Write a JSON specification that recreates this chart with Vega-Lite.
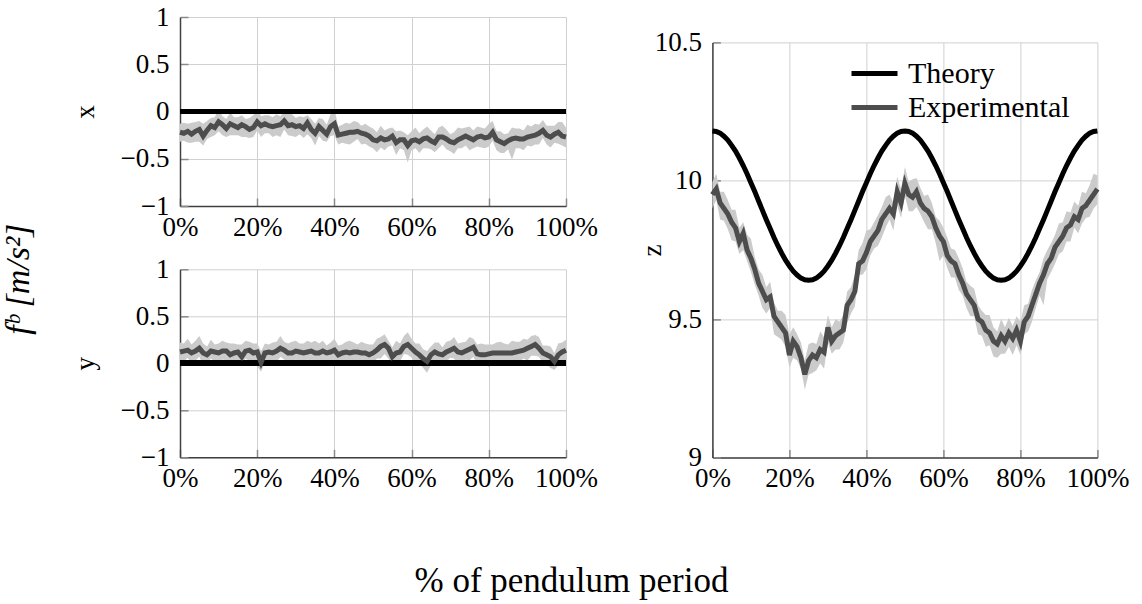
{
"$schema": "https://vega.github.io/schema/vega-lite/v6.json",
"background": "white",
"padding": {"left": 2, "top": 3, "right": 5, "bottom": 5},
"config": {
  "font": "Liberation Serif",
  "view": {"stroke": null},
  "axis": {"labelFont": "Liberation Serif", "labelFontSize": 27, "labelColor": "black", "titleFont": "Liberation Serif", "titleFontSize": 27, "titleFontWeight": "normal", "titleColor": "black", "gridColor": "#d0d0d0", "gridWidth": 1, "domainColor": "#404040", "domainWidth": 1.5, "tickColor": "#8a8a8a", "tickWidth": 1.5, "tickSize": -8, "labelFlush": false, "labelOverlap": false},
  "axisX": {"labelPadding": 16},
  "axisY": {"labelPadding": 19},
  "title": {"font": "Liberation Serif", "fontWeight": "normal", "fontSize": 27, "color": "black"},
  "legend": {"orient": "none", "legendX": 669, "legendY": 31, "title": null, "symbolType": "stroke", "symbolSize": 2116, "symbolStrokeWidth": 5, "labelFont": "Liberation Serif", "labelFontSize": 30, "labelColor": "black", "labelOffset": 8, "labelLimit": 0, "padding": 0}
},
"title": {"text": "% of pendulum period", "orient": "bottom", "anchor": "middle", "offset": 73, "fontSize": 35, "dx": 6},
"datasets": {"d": [
{"p":0,"xm":-0.22,"xl":-0.32,"xh":-0.13,"ym":0.12,"yl":0.03,"yh":0.22,"zm":9.95,"zl":9.90,"zh":9.995,"zt":10.180},
{"p":1,"xm":-0.23,"xl":-0.31,"xh":-0.12,"ym":0.13,"yl":0.02,"yh":0.21,"zm":9.97,"zl":9.93,"zh":10.025,"zt":10.178},
{"p":2,"xm":-0.21,"xl":-0.33,"xh":-0.13,"ym":0.14,"yl":0.06,"yh":0.26,"zm":9.92,"zl":9.86,"zh":9.96,"zt":10.172},
{"p":3,"xm":-0.24,"xl":-0.33,"xh":-0.12,"ym":0.11,"yl":-0.01,"yh":0.20,"zm":9.90,"zl":9.855,"zh":9.96,"zt":10.161},
{"p":4,"xm":-0.21,"xl":-0.32,"xh":-0.11,"ym":0.13,"yl":0.03,"yh":0.24,"zm":9.88,"zl":9.825,"zh":9.93,"zt":10.147},
{"p":5,"xm":-0.19,"xl":-0.32,"xh":-0.10,"ym":0.16,"yl":0.07,"yh":0.29,"zm":9.85,"zl":9.785,"zh":9.895,"zt":10.128},
{"p":6,"xm":-0.26,"xl":-0.36,"xh":-0.13,"ym":0.11,"yl":-0.02,"yh":0.21,"zm":9.83,"zl":9.78,"zh":9.895,"zt":10.107},
{"p":7,"xm":-0.20,"xl":-0.29,"xh":-0.10,"ym":0.09,"yl":-0.01,"yh":0.18,"zm":9.78,"zl":9.735,"zh":9.83,"zt":10.082},
{"p":8,"xm":-0.15,"xl":-0.27,"xh":-0.07,"ym":0.13,"yl":0.05,"yh":0.25,"zm":9.81,"zl":9.75,"zh":9.85,"zt":10.055},
{"p":9,"xm":-0.17,"xl":-0.25,"xh":-0.06,"ym":0.12,"yl":0.01,"yh":0.20,"zm":9.75,"zl":9.71,"zh":9.805,"zt":10.025},
{"p":10,"xm":-0.11,"xl":-0.21,"xh":0.03,"ym":0.11,"yl":-0.03,"yh":0.21,"zm":9.72,"zl":9.67,"zh":9.79,"zt":9.993},
{"p":11,"xm":-0.14,"xl":-0.25,"xh":-0.05,"ym":0.13,"yl":0.04,"yh":0.24,"zm":9.68,"zl":9.625,"zh":9.725,"zt":9.961},
{"p":12,"xm":-0.18,"xl":-0.27,"xh":-0.08,"ym":0.13,"yl":0.03,"yh":0.22,"zm":9.63,"zl":9.585,"zh":9.68,"zt":9.927},
{"p":13,"xm":-0.13,"xl":-0.25,"xh":-0.01,"ym":0.09,"yl":-0.03,"yh":0.21,"zm":9.60,"zl":9.54,"zh":9.66,"zt":9.893},
{"p":14,"xm":-0.15,"xl":-0.25,"xh":-0.06,"ym":0.11,"yl":0.02,"yh":0.21,"zm":9.57,"zl":9.52,"zh":9.615,"zt":9.859},
{"p":15,"xm":-0.17,"xl":-0.25,"xh":-0.06,"ym":0.12,"yl":0.01,"yh":0.20,"zm":9.58,"zl":9.54,"zh":9.635,"zt":9.827},
{"p":16,"xm":-0.14,"xl":-0.27,"xh":-0.04,"ym":0.07,"yl":-0.03,"yh":0.20,"zm":9.51,"zl":9.445,"zh":9.56,"zt":9.795},
{"p":17,"xm":-0.16,"xl":-0.27,"xh":-0.08,"ym":0.13,"yl":0.05,"yh":0.24,"zm":9.49,"zl":9.435,"zh":9.53,"zt":9.765},
{"p":18,"xm":-0.19,"xl":-0.28,"xh":-0.07,"ym":0.14,"yl":0.02,"yh":0.23,"zm":9.47,"zl":9.425,"zh":9.53,"zt":9.738},
{"p":19,"xm":-0.17,"xl":-0.27,"xh":-0.04,"ym":0.11,"yl":-0.02,"yh":0.21,"zm":9.45,"zl":9.40,"zh":9.515,"zt":9.713},
{"p":20,"xm":-0.11,"xl":-0.20,"xh":0.04,"ym":0.12,"yl":-0.03,"yh":0.21,"zm":9.37,"zl":9.325,"zh":9.445,"zt":9.692},
{"p":21,"xm":-0.15,"xl":-0.27,"xh":-0.05,"ym":0.01,"yl":-0.09,"yh":0.13,"zm":9.42,"zl":9.36,"zh":9.47,"zt":9.673},
{"p":22,"xm":-0.13,"xl":-0.23,"xh":-0.04,"ym":0.11,"yl":0.02,"yh":0.21,"zm":9.40,"zl":9.35,"zh":9.445,"zt":9.659},
{"p":23,"xm":-0.15,"xl":-0.23,"xh":-0.04,"ym":0.12,"yl":0.01,"yh":0.20,"zm":9.36,"zl":9.32,"zh":9.415,"zt":9.648},
{"p":24,"xm":-0.16,"xl":-0.27,"xh":-0.06,"ym":0.11,"yl":0.01,"yh":0.22,"zm":9.30,"zl":9.245,"zh":9.35,"zt":9.642},
{"p":25,"xm":-0.15,"xl":-0.25,"xh":-0.03,"ym":0.13,"yl":0.01,"yh":0.23,"zm":9.35,"zl":9.30,"zh":9.41,"zt":9.640},
{"p":26,"xm":-0.14,"xl":-0.27,"xh":-0.05,"ym":0.16,"yl":0.07,"yh":0.29,"zm":9.37,"zl":9.305,"zh":9.415,"zt":9.642},
{"p":27,"xm":-0.10,"xl":-0.19,"xh":0.00,"ym":0.14,"yl":0.04,"yh":0.23,"zm":9.36,"zl":9.315,"zh":9.41,"zt":9.648},
{"p":28,"xm":-0.15,"xl":-0.25,"xh":-0.02,"ym":0.11,"yl":-0.02,"yh":0.21,"zm":9.39,"zl":9.34,"zh":9.455,"zt":9.659},
{"p":29,"xm":-0.14,"xl":-0.26,"xh":-0.03,"ym":0.11,"yl":0.00,"yh":0.23,"zm":9.38,"zl":9.32,"zh":9.435,"zt":9.673},
{"p":30,"xm":-0.16,"xl":-0.27,"xh":-0.07,"ym":0.13,"yl":0.04,"yh":0.24,"zm":9.47,"zl":9.415,"zh":9.515,"zt":9.692},
{"p":31,"xm":-0.15,"xl":-0.24,"xh":-0.05,"ym":0.12,"yl":0.02,"yh":0.21,"zm":9.42,"zl":9.375,"zh":9.47,"zt":9.713},
{"p":32,"xm":-0.18,"xl":-0.28,"xh":-0.06,"ym":0.11,"yl":-0.01,"yh":0.21,"zm":9.44,"zl":9.39,"zh":9.50,"zt":9.738},
{"p":33,"xm":-0.12,"xl":-0.24,"xh":-0.04,"ym":0.12,"yl":0.04,"yh":0.24,"zm":9.45,"zl":9.39,"zh":9.49,"zt":9.765},
{"p":34,"xm":-0.19,"xl":-0.28,"xh":-0.08,"ym":0.13,"yl":0.02,"yh":0.22,"zm":9.46,"zl":9.415,"zh":9.515,"zt":9.795},
{"p":35,"xm":-0.23,"xl":-0.36,"xh":-0.13,"ym":0.11,"yl":0.01,"yh":0.24,"zm":9.55,"zl":9.485,"zh":9.60,"zt":9.827},
{"p":36,"xm":-0.16,"xl":-0.26,"xh":-0.07,"ym":0.11,"yl":0.02,"yh":0.21,"zm":9.57,"zl":9.52,"zh":9.615,"zt":9.859},
{"p":37,"xm":-0.20,"xl":-0.31,"xh":-0.08,"ym":0.13,"yl":0.01,"yh":0.24,"zm":9.60,"zl":9.545,"zh":9.66,"zt":9.893},
{"p":38,"xm":-0.24,"xl":-0.32,"xh":-0.14,"ym":0.11,"yl":0.01,"yh":0.19,"zm":9.70,"zl":9.66,"zh":9.75,"zt":9.927},
{"p":39,"xm":-0.16,"xl":-0.26,"xh":-0.03,"ym":0.12,"yl":-0.01,"yh":0.22,"zm":9.71,"zl":9.66,"zh":9.775,"zt":9.961},
{"p":40,"xm":-0.13,"xl":-0.25,"xh":0.03,"ym":0.14,"yl":-0.02,"yh":0.26,"zm":9.74,"zl":9.68,"zh":9.82,"zt":9.993},
{"p":41,"xm":-0.25,"xl":-0.35,"xh":-0.16,"ym":0.09,"yl":0.00,"yh":0.19,"zm":9.78,"zl":9.73,"zh":9.825,"zt":10.025},
{"p":42,"xm":-0.24,"xl":-0.33,"xh":-0.14,"ym":0.11,"yl":0.01,"yh":0.20,"zm":9.80,"zl":9.755,"zh":9.85,"zt":10.055},
{"p":43,"xm":-0.23,"xl":-0.34,"xh":-0.12,"ym":0.12,"yl":0.01,"yh":0.23,"zm":9.82,"zl":9.765,"zh":9.875,"zt":10.082},
{"p":44,"xm":-0.22,"xl":-0.35,"xh":-0.13,"ym":0.11,"yl":0.02,"yh":0.24,"zm":9.86,"zl":9.795,"zh":9.905,"zt":10.107},
{"p":45,"xm":-0.22,"xl":-0.32,"xh":-0.10,"ym":0.12,"yl":0.00,"yh":0.22,"zm":9.88,"zl":9.83,"zh":9.94,"zt":10.128},
{"p":46,"xm":-0.21,"xl":-0.29,"xh":-0.11,"ym":0.12,"yl":0.02,"yh":0.20,"zm":9.90,"zl":9.86,"zh":9.95,"zt":10.147},
{"p":47,"xm":-0.23,"xl":-0.35,"xh":-0.15,"ym":0.11,"yl":0.03,"yh":0.23,"zm":9.88,"zl":9.82,"zh":9.92,"zt":10.161},
{"p":48,"xm":-0.24,"xl":-0.34,"xh":-0.13,"ym":0.11,"yl":0.00,"yh":0.21,"zm":9.96,"zl":9.91,"zh":10.015,"zt":10.172},
{"p":49,"xm":-0.26,"xl":-0.37,"xh":-0.16,"ym":0.09,"yl":-0.01,"yh":0.20,"zm":9.92,"zl":9.865,"zh":9.97,"zt":10.178},
{"p":50,"xm":-0.30,"xl":-0.39,"xh":-0.18,"ym":0.11,"yl":-0.01,"yh":0.20,"zm":9.99,"zl":9.945,"zh":10.05,"zt":10.180},
{"p":51,"xm":-0.31,"xl":-0.43,"xh":-0.22,"ym":0.14,"yl":0.05,"yh":0.26,"zm":9.95,"zl":9.89,"zh":9.995,"zt":10.178},
{"p":52,"xm":-0.28,"xl":-0.38,"xh":-0.15,"ym":0.18,"yl":0.05,"yh":0.28,"zm":9.94,"zl":9.89,"zh":10.005,"zt":10.172},
{"p":53,"xm":-0.30,"xl":-0.41,"xh":-0.20,"ym":0.20,"yl":0.10,"yh":0.31,"zm":9.96,"zl":9.905,"zh":10.01,"zt":10.161},
{"p":54,"xm":-0.29,"xl":-0.37,"xh":-0.18,"ym":0.16,"yl":0.05,"yh":0.24,"zm":9.92,"zl":9.88,"zh":9.975,"zt":10.147},
{"p":55,"xm":-0.26,"xl":-0.36,"xh":-0.17,"ym":0.07,"yl":-0.02,"yh":0.17,"zm":9.90,"zl":9.85,"zh":9.945,"zt":10.128},
{"p":56,"xm":-0.33,"xl":-0.46,"xh":-0.21,"ym":0.11,"yl":-0.01,"yh":0.24,"zm":9.89,"zl":9.825,"zh":9.95,"zt":10.107},
{"p":57,"xm":-0.30,"xl":-0.39,"xh":-0.20,"ym":0.12,"yl":0.02,"yh":0.21,"zm":9.87,"zl":9.825,"zh":9.92,"zt":10.082},
{"p":58,"xm":-0.30,"xl":-0.41,"xh":-0.22,"ym":0.18,"yl":0.10,"yh":0.29,"zm":9.83,"zl":9.775,"zh":9.87,"zt":10.055},
{"p":59,"xm":-0.36,"xl":-0.54,"xh":-0.25,"ym":0.20,"yl":0.09,"yh":0.33,"zm":9.80,"zl":9.71,"zh":9.855,"zt":10.025},
{"p":60,"xm":-0.31,"xl":-0.41,"xh":-0.21,"ym":0.16,"yl":0.06,"yh":0.26,"zm":9.78,"zl":9.73,"zh":9.83,"zt":9.993},
{"p":61,"xm":-0.30,"xl":-0.39,"xh":-0.17,"ym":0.12,"yl":-0.01,"yh":0.21,"zm":9.73,"zl":9.685,"zh":9.795,"zt":9.961},
{"p":62,"xm":-0.32,"xl":-0.44,"xh":-0.23,"ym":0.09,"yl":0.00,"yh":0.21,"zm":9.71,"zl":9.65,"zh":9.755,"zt":9.927},
{"p":63,"xm":-0.29,"xl":-0.39,"xh":-0.19,"ym":0.05,"yl":-0.05,"yh":0.15,"zm":9.70,"zl":9.65,"zh":9.75,"zt":9.893},
{"p":64,"xm":-0.28,"xl":-0.39,"xh":-0.16,"ym":0.02,"yl":-0.10,"yh":0.13,"zm":9.66,"zl":9.605,"zh":9.72,"zt":9.859},
{"p":65,"xm":-0.31,"xl":-0.40,"xh":-0.20,"ym":0.09,"yl":-0.02,"yh":0.18,"zm":9.63,"zl":9.585,"zh":9.685,"zt":9.827},
{"p":66,"xm":-0.33,"xl":-0.43,"xh":-0.24,"ym":0.12,"yl":0.03,"yh":0.22,"zm":9.59,"zl":9.54,"zh":9.635,"zt":9.795},
{"p":67,"xm":-0.27,"xl":-0.39,"xh":-0.17,"ym":0.10,"yl":0.00,"yh":0.22,"zm":9.57,"zl":9.51,"zh":9.62,"zt":9.765},
{"p":68,"xm":-0.27,"xl":-0.35,"xh":-0.15,"ym":0.09,"yl":-0.03,"yh":0.17,"zm":9.55,"zl":9.51,"zh":9.61,"zt":9.738},
{"p":69,"xm":-0.29,"xl":-0.40,"xh":-0.19,"ym":0.12,"yl":0.02,"yh":0.23,"zm":9.50,"zl":9.445,"zh":9.55,"zt":9.713},
{"p":70,"xm":-0.32,"xl":-0.42,"xh":-0.24,"ym":0.14,"yl":0.06,"yh":0.24,"zm":9.49,"zl":9.44,"zh":9.53,"zt":9.692},
{"p":71,"xm":-0.33,"xl":-0.45,"xh":-0.22,"ym":0.16,"yl":0.05,"yh":0.28,"zm":9.46,"zl":9.40,"zh":9.515,"zt":9.673},
{"p":72,"xm":-0.30,"xl":-0.39,"xh":-0.17,"ym":0.12,"yl":-0.01,"yh":0.21,"zm":9.45,"zl":9.405,"zh":9.515,"zt":9.659},
{"p":73,"xm":-0.28,"xl":-0.39,"xh":-0.18,"ym":0.11,"yl":0.01,"yh":0.22,"zm":9.42,"zl":9.365,"zh":9.47,"zt":9.648},
{"p":74,"xm":-0.26,"xl":-0.36,"xh":-0.17,"ym":0.13,"yl":0.04,"yh":0.23,"zm":9.41,"zl":9.36,"zh":9.455,"zt":9.642},
{"p":75,"xm":-0.28,"xl":-0.41,"xh":-0.16,"ym":0.15,"yl":0.03,"yh":0.28,"zm":9.44,"zl":9.375,"zh":9.50,"zt":9.640},
{"p":76,"xm":-0.30,"xl":-0.39,"xh":-0.20,"ym":0.17,"yl":0.07,"yh":0.26,"zm":9.42,"zl":9.375,"zh":9.47,"zt":9.642},
{"p":77,"xm":-0.27,"xl":-0.37,"xh":-0.16,"ym":0.10,"yl":-0.01,"yh":0.20,"zm":9.45,"zl":9.40,"zh":9.505,"zt":9.648},
{"p":78,"xm":-0.26,"xl":-0.38,"xh":-0.17,"ym":0.09,"yl":0.00,"yh":0.21,"zm":9.43,"zl":9.37,"zh":9.475,"zt":9.659},
{"p":79,"xm":-0.28,"xl":-0.39,"xh":-0.18,"ym":0.09,"yl":-0.01,"yh":0.20,"zm":9.46,"zl":9.405,"zh":9.51,"zt":9.673},
{"p":80,"xm":-0.27,"xl":-0.37,"xh":-0.13,"ym":0.10,"yl":-0.04,"yh":0.20,"zm":9.42,"zl":9.37,"zh":9.49,"zt":9.692},
{"p":81,"xm":-0.22,"xl":-0.31,"xh":-0.10,"ym":0.11,"yl":-0.01,"yh":0.20,"zm":9.49,"zl":9.445,"zh":9.55,"zt":9.713},
{"p":82,"xm":-0.30,"xl":-0.41,"xh":-0.21,"ym":0.11,"yl":0.02,"yh":0.22,"zm":9.51,"zl":9.455,"zh":9.555,"zt":9.738},
{"p":83,"xm":-0.32,"xl":-0.44,"xh":-0.21,"ym":0.11,"yl":0.00,"yh":0.23,"zm":9.55,"zl":9.49,"zh":9.605,"zt":9.765},
{"p":84,"xm":-0.34,"xl":-0.44,"xh":-0.24,"ym":0.11,"yl":0.01,"yh":0.21,"zm":9.59,"zl":9.54,"zh":9.64,"zt":9.795},
{"p":85,"xm":-0.31,"xl":-0.40,"xh":-0.23,"ym":0.11,"yl":0.03,"yh":0.20,"zm":9.63,"zl":9.585,"zh":9.67,"zt":9.827},
{"p":86,"xm":-0.29,"xl":-0.51,"xh":-0.17,"ym":0.11,"yl":-0.01,"yh":0.24,"zm":9.66,"zl":9.55,"zh":9.72,"zt":9.859},
{"p":87,"xm":-0.28,"xl":-0.39,"xh":-0.18,"ym":0.12,"yl":0.02,"yh":0.23,"zm":9.70,"zl":9.645,"zh":9.75,"zt":9.893},
{"p":88,"xm":-0.29,"xl":-0.39,"xh":-0.18,"ym":0.13,"yl":0.02,"yh":0.23,"zm":9.72,"zl":9.67,"zh":9.775,"zt":9.927},
{"p":89,"xm":-0.29,"xl":-0.41,"xh":-0.20,"ym":0.14,"yl":0.05,"yh":0.26,"zm":9.76,"zl":9.70,"zh":9.805,"zt":9.961},
{"p":90,"xm":-0.27,"xl":-0.36,"xh":-0.14,"ym":0.16,"yl":0.03,"yh":0.25,"zm":9.78,"zl":9.735,"zh":9.845,"zt":9.993},
{"p":91,"xm":-0.26,"xl":-0.37,"xh":-0.16,"ym":0.18,"yl":0.08,"yh":0.29,"zm":9.80,"zl":9.745,"zh":9.85,"zt":10.025},
{"p":92,"xm":-0.25,"xl":-0.35,"xh":-0.13,"ym":0.20,"yl":0.08,"yh":0.30,"zm":9.83,"zl":9.78,"zh":9.89,"zt":10.055},
{"p":93,"xm":-0.23,"xl":-0.35,"xh":-0.14,"ym":0.16,"yl":0.07,"yh":0.28,"zm":9.84,"zl":9.78,"zh":9.885,"zt":10.082},
{"p":94,"xm":-0.20,"xl":-0.28,"xh":-0.09,"ym":0.11,"yl":0.00,"yh":0.19,"zm":9.87,"zl":9.83,"zh":9.925,"zt":10.107},
{"p":95,"xm":-0.25,"xl":-0.35,"xh":-0.15,"ym":0.09,"yl":-0.01,"yh":0.19,"zm":9.86,"zl":9.81,"zh":9.91,"zt":10.128},
{"p":96,"xm":-0.27,"xl":-0.38,"xh":-0.15,"ym":0.07,"yl":-0.05,"yh":0.18,"zm":9.90,"zl":9.845,"zh":9.96,"zt":10.147},
{"p":97,"xm":-0.24,"xl":-0.33,"xh":-0.15,"ym":0.02,"yl":-0.07,"yh":0.11,"zm":9.91,"zl":9.865,"zh":9.955,"zt":10.161},
{"p":98,"xm":-0.22,"xl":-0.34,"xh":-0.11,"ym":0.09,"yl":-0.02,"yh":0.21,"zm":9.93,"zl":9.87,"zh":9.985,"zt":10.172},
{"p":99,"xm":-0.26,"xl":-0.36,"xh":-0.11,"ym":0.12,"yl":-0.03,"yh":0.22,"zm":9.95,"zl":9.90,"zh":10.025,"zt":10.178},
{"p":100,"xm":-0.27,"xl":-0.38,"xh":-0.17,"ym":0.14,"yl":0.04,"yh":0.25,"zm":9.97,"zl":9.915,"zh":10.02,"zt":10.180}
]},
"spacing": 39.4,
"hconcat": [
  {
    "title": {"text": "fᵇ [m/s²]", "orient": "left", "anchor": "middle", "fontStyle": "italic", "fontSize": 34, "offset": 35, "dx": -32},
    "bounds": "flush",
    "spacing": 63.3,
    "vconcat": [
      {
        "width": 386, "height": 189,
        "data": {"name": "d"},
        "layer": [
          {"mark": {"type": "area", "color": "#cbcbcb"},
           "encoding": {
             "x": {"field": "p", "type": "quantitative", "scale": {"domain": [0, 100], "nice": false}, "axis": {"values": [0, 20, 40, 60, 80, 100], "labelExpr": "datum.value + '%'", "title": null}},
             "y": {"field": "xl", "type": "quantitative", "scale": {"domain": [-1, 1], "nice": false}, "axis": {"values": [-1, -0.5, 0, 0.5, 1], "format": "~g", "title": "x", "titlePadding": 21}},
             "y2": {"field": "xh"}}},
          {"mark": {"type": "rule", "color": "black", "strokeWidth": 5}, "encoding": {"y": {"datum": 0}}},
          {"mark": {"type": "line", "color": "#4d4d4d", "strokeWidth": 5}, "encoding": {"x": {"field": "p", "type": "quantitative"}, "y": {"field": "xm", "type": "quantitative"}}}
        ]
      },
      {
        "width": 386, "height": 188,
        "data": {"name": "d"},
        "layer": [
          {"mark": {"type": "area", "color": "#cbcbcb"},
           "encoding": {
             "x": {"field": "p", "type": "quantitative", "scale": {"domain": [0, 100], "nice": false}, "axis": {"values": [0, 20, 40, 60, 80, 100], "labelExpr": "datum.value + '%'", "title": null}},
             "y": {"field": "yl", "type": "quantitative", "scale": {"domain": [-1, 1], "nice": false}, "axis": {"values": [-1, -0.5, 0, 0.5, 1], "format": "~g", "title": "y", "titlePadding": 21}},
             "y2": {"field": "yh"}}},
          {"mark": {"type": "rule", "color": "black", "strokeWidth": 5}, "encoding": {"y": {"datum": 0}}},
          {"mark": {"type": "line", "color": "#4d4d4d", "strokeWidth": 5}, "encoding": {"x": {"field": "p", "type": "quantitative"}, "y": {"field": "ym", "type": "quantitative"}}}
        ]
      }
    ]
  },
  {
    "bounds": "flush",
    "spacing": 24.4,
    "vconcat": [
      {"width": 385, "height": 1, "data": {"name": "d"}, "mark": {"type": "text", "text": ""}, "encoding": {}},
      {
        "width": 385, "height": 415,
        "data": {"name": "d"},
        "layer": [
          {"mark": {"type": "area", "color": "#cbcbcb"},
           "encoding": {
             "x": {"field": "p", "type": "quantitative", "scale": {"domain": [0, 100], "nice": false}, "axis": {"values": [0, 20, 40, 60, 80, 100], "labelExpr": "datum.value + '%'", "title": null}},
             "y": {"field": "zl", "type": "quantitative", "scale": {"domain": [9, 10.5], "nice": false, "zero": false}, "axis": {"values": [9, 9.5, 10, 10.5], "format": "~g", "title": "z", "titlePadding": -12}},
             "y2": {"field": "zh"}}},
          {"mark": {"type": "line", "strokeWidth": 5}, "encoding": {"x": {"field": "p", "type": "quantitative"}, "y": {"field": "zt", "type": "quantitative"}, "color": {"datum": "Theory", "type": "nominal", "scale": {"domain": ["Theory"], "range": ["black"]}, "legend": {"legendX": 669, "legendY": 31}}}},
          {"mark": {"type": "line", "strokeWidth": 5, "color": "#4d4d4d"}, "encoding": {"x": {"field": "p", "type": "quantitative"}, "y": {"field": "zm", "type": "quantitative"}, "strokeDash": {"datum": "Experimental", "type": "nominal", "scale": {"domain": ["Experimental"], "range": [[1, 0]]}, "legend": {"legendX": 669, "legendY": 65, "symbolStrokeColor": "#4d4d4d"}}}}
        ]
      }
    ]
  }
]
}
